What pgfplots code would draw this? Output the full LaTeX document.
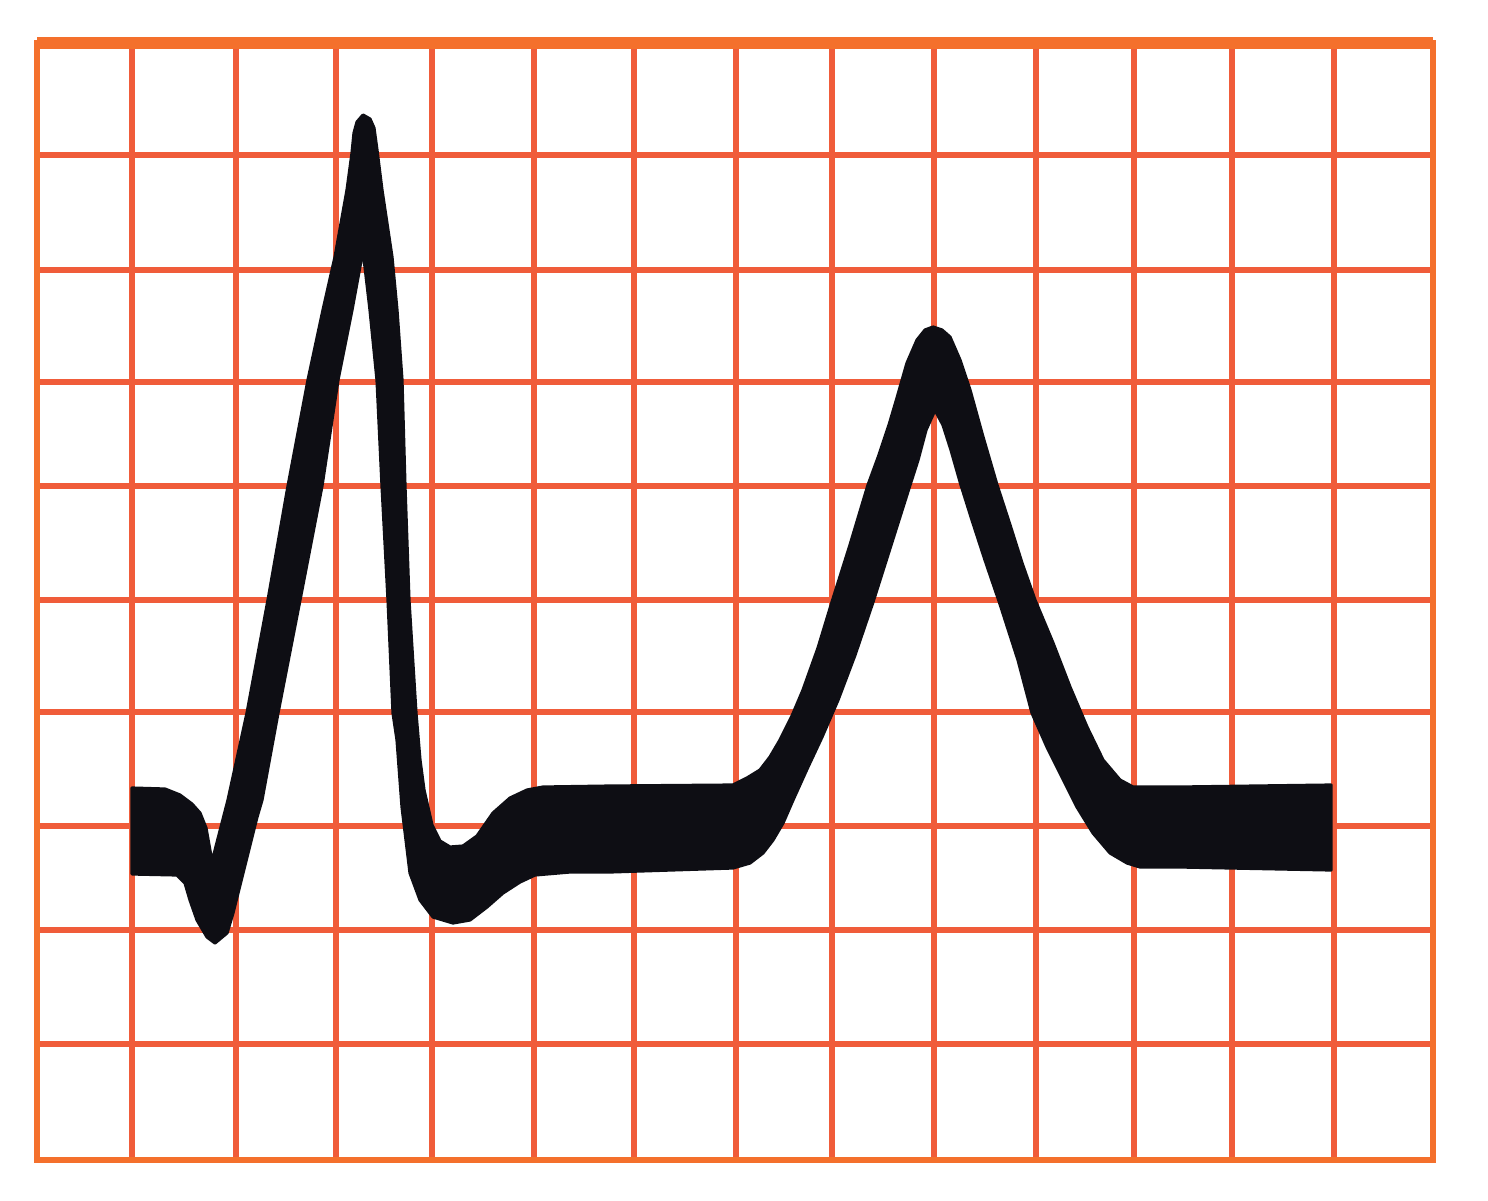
\documentclass[border=0pt]{standalone}
\usepackage{pgfplots}
\pgfplotsset{compat=1.18}
\definecolor{gridc}{RGB}{240,92,58}
\definecolor{borderc}{RGB}{244,112,44}
\definecolor{trace}{RGB}{14,14,20}
\begin{document}
\begin{tikzpicture}
\begin{axis}[
  scale only axis,
  width=349pt, height=279.25pt,
  xmin=37, xmax=1433, ymin=43, ymax=1160,
  y dir=reverse,
  xtick={132,236,336,432,534,634,736,832,934,1036,1134,1232,1334},
  ytick={155,270,382,486,600,712,826,930,1044},
  xticklabels={}, yticklabels={},
  major tick length=0pt,
  grid=major,
  major grid style={line width=1.3pt, color=gridc},
  axis line style={line width=1.3pt, color=borderc},
  clip=false,
]
\addplot[fill=trace, draw=trace, line width=0.8pt, line join=round] coordinates {
(132,788) (165,789) (180,795) (192,804) (200,813) (206,828) (209,845) (212,862)
(228,800) (247,713) (268,600) (288,486) (308,380) (323,310) (335,257) (347,190)
(352,153) (354,133) (357,122) (363,115) (370,119) (374,128) (377,150) (382,190)
(392,257) (397,310) (402,380) (405,486) (409,600) (416,713) (420,760) (424,790)
(432,825) (440,841) (450,847) (463,846) (477,836) (493,813) (510,798) (527,790)
(543,787) (610,786) (733,785) (747,778) (760,770) (770,757) (780,740) (792,716)
(803,690) (818,648) (832,602) (850,545) (868,485) (879,455) (889,425) (897,398)
(907,363) (917,340) (925,330) (933,327) (942,330) (950,337) (960,360) (970,390)
(983,437) (997,485) (1010,525) (1022,563) (1035,600) (1053,643) (1070,687) (1087,727)
(1103,760) (1120,780) (1133,787) (1180,787) (1331,785)
(1331,870) (1180,867) (1140,867) (1127,863) (1110,853) (1093,833) (1077,807)
(1060,773) (1047,747) (1032,713) (1018,660) (1000,604) (985,560) (972,520)
(961,485) (951,450) (943,425) (935,410) (926,430) (918,460) (910,485) (892,542)
(873,602) (855,655) (838,700) (822,737) (807,769) (793,800) (783,823) (773,840)
(763,853) (750,863) (733,868) (610,872) (570,872) (535,875) (520,882) (503,893)
(487,907) (470,920) (453,923) (433,917) (420,900) (410,873) (402,807) (397,740)
(393,713) (388,600) (382,486) (377,380) (370,310) (363,250) (352,310) (338,380)
(322,486) (300,600) (278,713) (262,800) (257,817) (243,873) (233,913) (227,933)
(215,943) (207,937) (197,920) (190,900) (185,883) (177,875) (132,874)
} -- cycle;
\draw[line width=2.8pt, color=borderc] (axis cs:37,43) -- (axis cs:1433,43);
\draw[line width=1.6pt, color=borderc] (axis cs:37,1160) -- (axis cs:1433,1160);
\end{axis}
\path ([shift={(-9.25pt,-10pt)}]current axis.south west) rectangle ([shift={(13.75pt,10.75pt)}]current axis.north east);
\end{tikzpicture}
\end{document}
